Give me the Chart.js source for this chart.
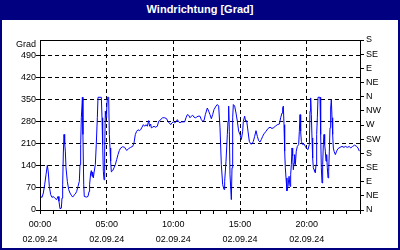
<!DOCTYPE html>
<html>
<head>
<meta charset="utf-8">
<script src="https://cdn.jsdelivr.net/npm/chart.js@4/dist/chart.umd.min.js"></script>
<style>
  html, body { margin: 0; padding: 0; background: #fff; }
  #wrap { position: relative; width: 400px; height: 250px; box-sizing: border-box;
          border: 2px solid #000080; border-top: none; background: #fff; overflow: hidden; }
  #title { height: 20px; background: #000080; color: #fff; text-align: center;
           font: bold 11px 'Liberation Sans', Arial, sans-serif; line-height: 18px; }
  #plot { position: absolute; left: 0; top: 20px; width: 396px; height: 228px; }
  #unit { position: absolute; top: 39px; right: 362px; font: 9px 'Liberation Sans', Arial, sans-serif;
          line-height: 10px; color: #000; }
</style>
</head>
<body>
<div id="wrap">
  <div id="title">Windrichtung [Grad]</div>
  <div id="plot"><canvas id="c" width="396" height="228"></canvas></div>
  <span id="unit">Grad</span>
</div>
<script>
// time of day in hours (02.09.24)
const hours = [
  0.05,0.15,0.25,0.35,0.45,0.55,0.62,0.7,0.8,0.9,1.0,1.1,1.25,1.35,1.42,1.5,1.6,1.65,1.7,1.75,1.8,1.85,1.9,1.95,
  2.05,2.15,2.25,2.35,2.45,2.55,2.65,2.75,2.85,2.95,3.0,3.05,3.1,3.18,3.22,3.28,3.32,3.48,3.6,3.68,3.72,3.8,3.85,3.9,3.95,
  4.0,4.05,4.15,4.22,4.3,4.35,4.6,4.65,4.7,4.75,4.8,4.85,4.9,4.95,5.0,5.05,5.15,5.2,5.25,5.3,5.35,5.45,5.55,5.65,5.75,5.85,5.95,
  6.05,6.2,6.35,6.5,6.65,6.8,6.95,7.05,7.15,7.25,7.35,7.45,7.55,7.65,7.75,7.85,7.95,8.05,8.15,8.22,8.3,8.35,8.45,8.55,8.65,8.8,8.9,
  9.0,9.1,9.2,9.35,9.5,9.6,9.7,9.8,9.9,10.0,10.1,10.2,10.3,10.4,10.5,10.6,10.75,10.85,10.95,11.05,11.15,11.25,11.35,11.45,11.55,11.65,11.75,11.85,
  12.0,12.1,12.2,12.3,12.4,12.55,12.65,12.75,12.85,12.95,13.05,13.2,13.3,13.4,13.5,13.6,13.7,13.8,13.85,13.95,
  14.05,14.1,14.15,14.2,14.25,14.3,14.35,14.4,14.45,14.5,14.6,14.7,14.8,14.9,15.0,15.1,15.2,15.25,15.35,15.42,15.5,15.6,15.7,15.8,15.9,
  16.0,16.1,16.2,16.3,16.4,16.5,16.6,16.7,16.8,16.95,17.1,17.25,17.4,17.5,17.65,17.8,17.95,
  18.05,18.15,18.2,18.25,18.3,18.35,18.4,18.45,18.52,18.6,18.68,18.75,18.8,18.85,18.9,18.95,19.0,19.05,19.1,19.15,19.22,19.3,19.4,19.45,19.5,19.55,19.6,19.7,19.8,19.9,
  20.0,20.1,20.2,20.25,20.3,20.35,20.4,20.45,20.5,20.55,20.6,20.65,20.7,20.75,20.8,20.85,21.0,21.05,21.1,21.15,21.2,21.25,21.3,21.35,21.4,21.45,21.5,21.55,21.6,21.65,21.7,21.75,21.8,21.85,21.9,21.95,
  22.0,22.05,22.15,22.25,22.35,22.5,22.65,22.8,22.9,23.05,23.2,23.3,23.45,23.6,23.75,23.85,23.95
];
// wind direction in degrees
const directions = [
  43,40,54,80,112,142,121,75,49,40,43,38,33,43,28,4,6,38,80,181,240,213,187,134,
  91,65,54,47,41,47,51,59,75,91,144,208,293,358,240,80,43,41,43,59,80,118,125,107,121,
  102,118,144,208,293,358,358,293,208,123,96,187,314,293,314,358,358,240,197,155,121,125,134,144,160,176,189,
  197,201,199,189,195,199,202,213,240,250,255,252,255,263,271,266,271,266,284,266,273,261,263,266,263,266,282,
  284,290,293,293,290,280,277,271,277,280,277,280,287,280,277,280,280,280,293,303,301,293,298,301,295,293,295,298,
  298,287,282,284,303,324,314,303,290,303,319,330,335,330,261,144,81,65,91,155,
  240,282,330,250,112,112,33,134,293,335,330,308,282,250,240,224,250,282,298,282,284,250,218,210,210,
  218,234,252,234,220,216,224,234,242,250,259,263,259,261,266,271,273,
  293,308,324,330,271,187,134,102,61,75,107,75,112,144,197,171,128,149,176,144,187,202,208,250,303,250,218,208,210,202,
  195,192,208,314,356,303,229,165,134,128,123,118,144,240,293,358,358,240,134,86,144,208,240,208,187,155,176,134,102,123,187,261,324,351,293,240,
  197,187,176,187,195,199,202,199,202,199,202,197,202,206,202,197,187
];
const gradTicks = [0, 70, 140, 210, 280, 350, 420, 490];
const compassValues = [0, 45, 90, 135, 180, 225, 270, 315, 360, 405, 450, 495, 540];
const compassLabels = ['N','NE','E','SE','S','SW','W','NW','N','NE','E','SE','S'];
const timeLabels = ['00:00','05:00','10:00','15:00','20:00'];
const dateLabel = '02.09.24';

Chart.defaults.font.family = "'Liberation Sans', Arial, sans-serif";
Chart.defaults.font.size = 9;
Chart.defaults.color = '#000';

const clear = 'rgba(0,0,0,0)';
new Chart(document.getElementById('c'), {
  type: 'line',
  data: {
    datasets: [{
      data: hours.map((h, i) => ({ x: h, y: directions[i] })),
      borderColor: '#0000ff', borderWidth: 1, pointRadius: 0, tension: 0, fill: false,
      xAxisID: 'x', yAxisID: 'y'
    }]
  },
  options: {
    animation: false, responsive: false, devicePixelRatio: 1,
    layout: { padding: 0 },
    plugins: { legend: { display: false }, tooltip: { enabled: false }, title: { display: false } },
    scales: {
      x: {
        type: 'linear', position: 'bottom', min: 0, max: 24,
        ticks: {
          stepSize: 1, autoSkip: false, maxRotation: 0, minRotation: 0, padding: 3,
          font: { lineHeight: '15px' },
          callback: v => (v % 5 === 0 && v < 24) ? [timeLabels[v / 5], dateLabel] : ''
        },
        grid: {
          color: c => (c.tick && c.tick.value % 5 === 0 && c.tick.value > 0 && c.tick.value < 24) ? '#000' : clear,
          tickColor: '#000', tickLength: 4, lineWidth: 1
        },
        border: { display: true, color: '#000', width: 1, dash: [4, 3] },
        afterFit: s => { s.height = 38; }
      },
      x2: {
        type: 'linear', position: 'top', min: 0, max: 24,
        ticks: { display: false },
        grid: { drawOnChartArea: false, drawTicks: false },
        border: { display: true, color: '#000', width: 1 },
        afterFit: s => { s.height = 20; }
      },
      y: {
        type: 'linear', position: 'left', min: 0, max: 540,
        afterBuildTicks: s => { s.ticks = gradTicks.map(v => ({ value: v })); },
        ticks: { padding: 0, autoSkip: false },
        grid: {
          color: c => (c.tick && c.tick.value > 0) ? '#000' : clear,
          tickColor: '#000', tickLength: 4, lineWidth: 1
        },
        border: { display: true, color: '#000', width: 1, dash: [4, 3] },
        afterFit: s => { s.width = 38; }
      },
      y2: {
        type: 'linear', position: 'right', min: 0, max: 540,
        afterBuildTicks: s => { s.ticks = compassValues.map(v => ({ value: v })); },
        ticks: { padding: 2, autoSkip: false, callback: (v, i) => compassLabels[i] },
        grid: { drawOnChartArea: false, tickColor: '#000', tickLength: 4 },
        border: { display: true, color: '#000', width: 1 },
        afterFit: s => { s.width = 38; }
      }
    }
  }
});
</script>
</body>
</html>
